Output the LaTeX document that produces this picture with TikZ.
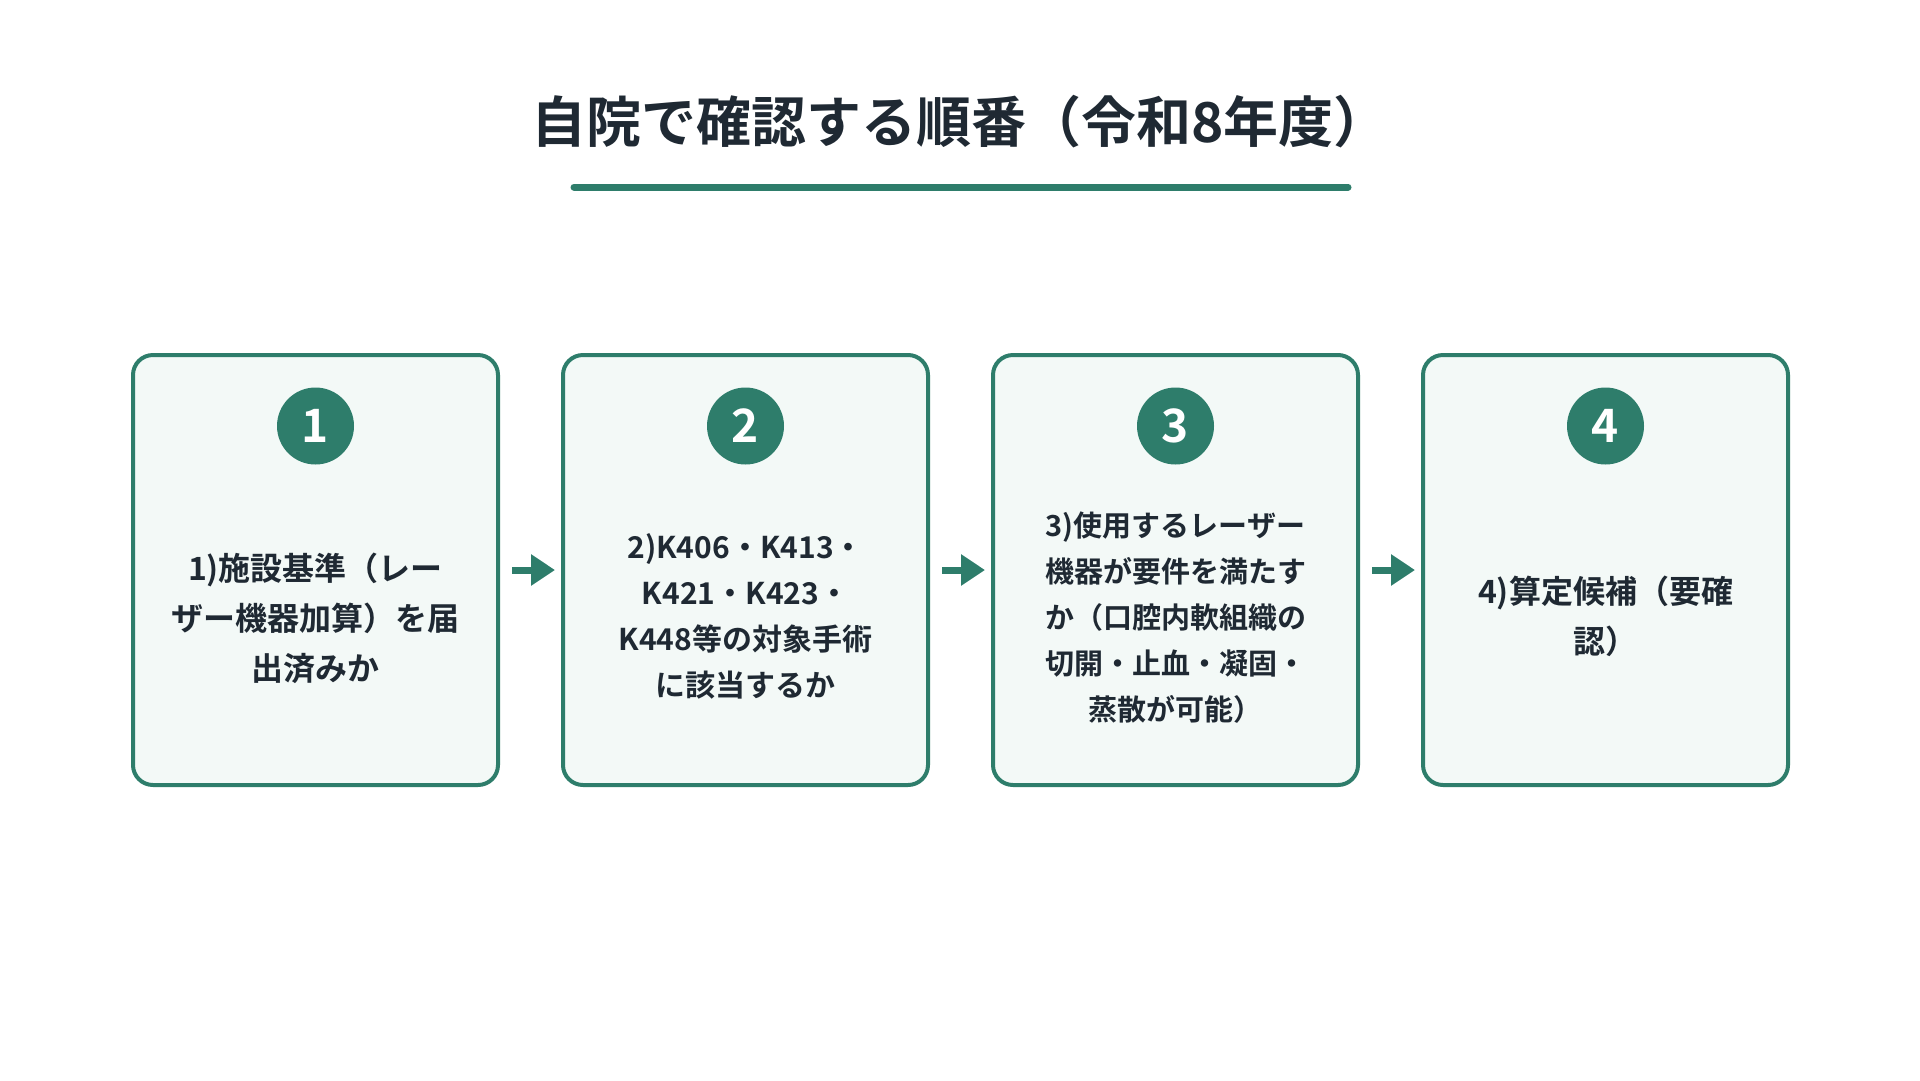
\documentclass[tikz,border=0pt]{standalone}
\usepackage{fontspec}
\usetikzlibrary{arrows.meta}
\setmainfont{Noto Sans CJK JP}[BoldFont={Noto Sans CJK JP Bold}]
\definecolor{gr}{HTML}{2E7D6B}
\definecolor{bx}{HTML}{F3F9F7}
\definecolor{tx}{HTML}{1F2933}
\begin{document}
\begin{tikzpicture}[x=1pt,y=-1pt,
 box/.style={draw=gr,line width=4pt,fill=bx,rounded corners=20pt,minimum width=365pt,minimum height=430pt},
 num/.style={circle,fill=gr,minimum size=77pt,inner sep=0pt,text=white,font=\bfseries\fontsize{46}{46}\selectfont},
 lab/.style 2 args={text=tx,align=center,font=\bfseries\fontsize{#1}{#2}\selectfont},
 arr/.style={draw=gr,line width=7pt,-{Triangle[length=24pt,width=30pt]}}]
\useasboundingbox (0,0) rectangle (1920,1080);
\node[text=tx,font=\bfseries\fontsize{55}{60}\selectfont] (title) at (960,122) {自院で確認する順番（令和8年度）};
\draw[gr,line width=7pt,line cap=round] (574,187) coordinate (u1) -- (1348,187) coordinate (u2);
\foreach \i/\x in {1/315.5,2/745.5,3/1175.5,4/1605.5}{
 \node[box] (b\i) at (\x,570) {};
 \node[num] (n\i) at (\x,426) {\i};
}
\node[lab={32}{50}] (t1) at (315.5,618) {1)施設基準（レー\\ザー機器加算）を届\\出済みか};
\node[lab={30}{46}] (t2) at (745.5,616) {2)K406・K413・\\K421・K423・\\K448等の対象手術\\に該当するか};
\node[lab={29}{46}] (t3) at (1175.5,618) {3)使用するレーザー\\機器が要件を満たす\\か（口腔内軟組織の\\切開・止血・凝固・\\蒸散が可能）};
\node[lab={32}{50}] (t4) at (1605.5,616) {4)算定候補（要確\\認）};
\foreach \a/\b in {1/2,2/3,3/4}{
 \draw[arr] ([xshift=12pt]b\a.east) -- ([xshift=-6pt]b\b.west);
}
\end{tikzpicture}
\end{document}
